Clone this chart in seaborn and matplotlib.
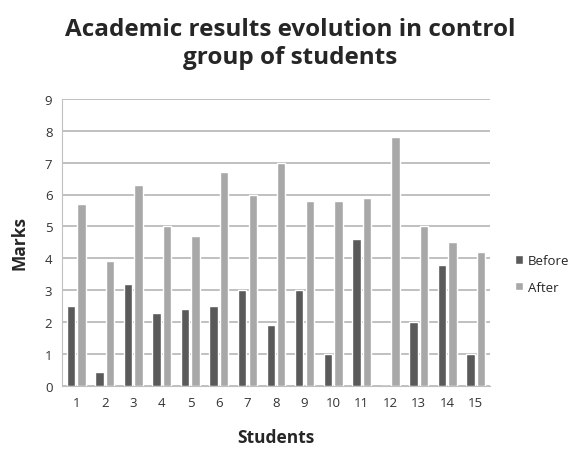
import matplotlib
matplotlib.use('Agg')
import matplotlib.pyplot as plt
import pandas as pd
import seaborn as sns

students = [str(i) for i in range(1, 16)]
before = [2.5, 0.45, 3.2, 2.3, 2.4, 2.5, 3.0, 1.9, 3.0, 1.0, 4.6, 0.0, 2.0, 3.8, 1.0]
after = [5.7, 3.9, 6.3, 5.0, 4.7, 6.7, 6.0, 7.0, 5.8, 5.8, 5.9, 7.8, 5.0, 4.5, 4.2]

df = pd.DataFrame({
    'Students': students * 2,
    'Marks': before + after,
    'Period': ['Before'] * 15 + ['After'] * 15,
})

sns.set_style('white')
plt.rcParams['font.family'] = ['Open Sans', 'DejaVu Sans']

fig = plt.figure(figsize=(5.75, 4.6), dpi=100)
ax = fig.add_axes([0.108, 0.159, 0.744, 0.624])

sns.barplot(data=df, x='Students', y='Marks', hue='Period',
            palette={'Before': '#5a5a5a', 'After': '#a8a8a8'},
            width=0.74, gap=0.2, ax=ax, zorder=3)

ax.set_ylim(0, 9)
ax.set_yticks(range(10))
ax.set_xlim(-0.5, 14.5)
ax.grid(axis='y', color='#b5b5b5', linewidth=1.2, zorder=0)
for s in ['top', 'right']:
    ax.spines[s].set_visible(False)
ax.spines['left'].set_color('#c0c0c0')
ax.spines['bottom'].set_color('#c0c0c0')
ax.tick_params(axis='both', labelsize=9.5, colors='#333333', length=0, pad=7)

ax.set_xlabel('Students', fontsize=12.5, fontweight='bold', labelpad=14)
ax.set_ylabel('Marks', fontsize=12.5, fontweight='bold', labelpad=12)
fig.suptitle('Academic results evolution in control\ngroup of students',
             fontsize=17.5, fontweight='bold', y=0.96, x=0.505,
             linespacing=1.2)

ax.legend(loc='center left', bbox_to_anchor=(1.03, 0.39), frameon=False,
          fontsize=9.5, handlelength=0.6, handleheight=0.6, handletextpad=0.4,
          labelspacing=1.0)

fig.savefig('out.png', dpi=100)
